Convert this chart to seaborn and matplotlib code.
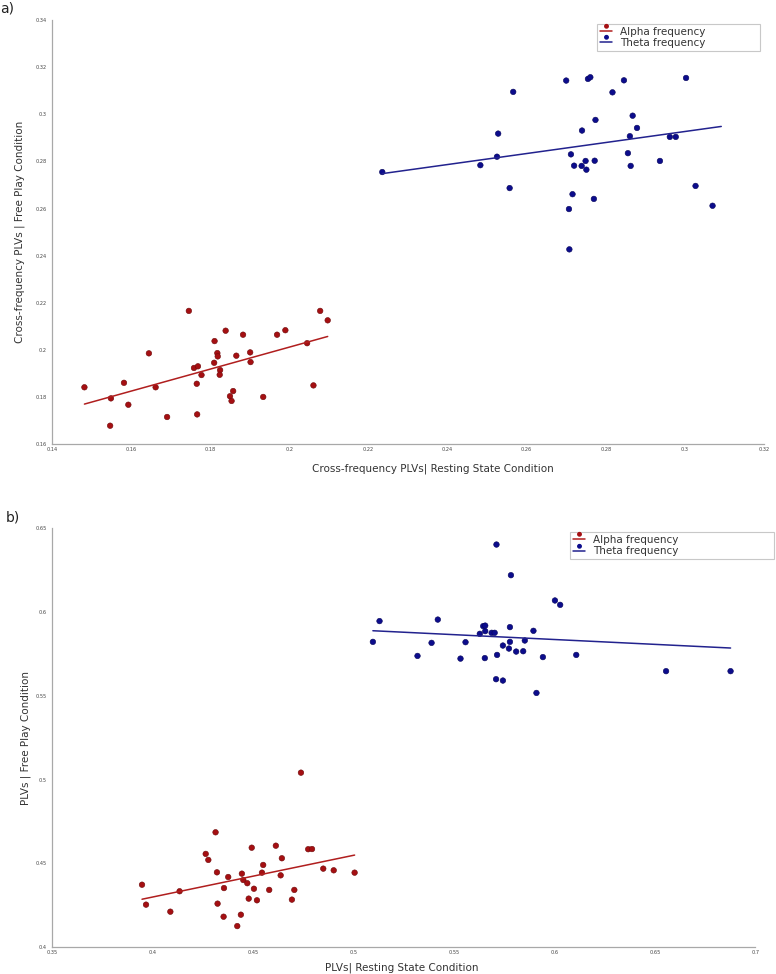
import numpy as np
import pandas as pd
import matplotlib
matplotlib.use("Agg")
import matplotlib.pyplot as plt
from matplotlib.path import Path
from matplotlib.lines import Line2D
from matplotlib.ticker import MultipleLocator, FuncFormatter
import seaborn as sns

# ---------------------------------------------------------
# DATA
# ---------------------------------------------------------
# a) cross-frequency PLVs, resting state (x) vs free play (y)
alpha_cf_rest = [0.1482, 0.1549, 0.1547, 0.1582, 0.1593, 0.1645, 0.1662, 0.1691, 0.1746, 0.1759,
                 0.1769, 0.1766, 0.1778, 0.1767, 0.1811, 0.1810, 0.1818, 0.1819, 0.1825, 0.1824,
                 0.1839, 0.1866, 0.1858, 0.1850, 0.1854, 0.1883, 0.1901, 0.1902, 0.1934, 0.1969,
                 0.1990, 0.2045, 0.2061, 0.2078, 0.2097]
alpha_cf_play = [0.1842, 0.1795, 0.1679, 0.1861, 0.1768, 0.1986, 0.1842, 0.1716, 0.2166, 0.1924,
                 0.1931, 0.1857, 0.1894, 0.1727, 0.2038, 0.1946, 0.1987, 0.1973, 0.1915, 0.1895,
                 0.2082, 0.1976, 0.1826, 0.1804, 0.1784, 0.2065, 0.1990, 0.1949, 0.1801, 0.2065,
                 0.2084, 0.2029, 0.1850, 0.2166, 0.2126]
# last theta point sits behind the legend (inferred from the fitted line's extent)
theta_cf_rest = [0.2235, 0.2483, 0.2525, 0.2528, 0.2566, 0.2557, 0.2700, 0.2712, 0.2720, 0.2740,
                 0.2739, 0.2749, 0.2751, 0.2716, 0.2707, 0.2708, 0.2755, 0.2761, 0.2774, 0.2772,
                 0.2770, 0.2817, 0.2846, 0.2868, 0.2879, 0.2861, 0.2856, 0.2863, 0.2937, 0.2962,
                 0.2977, 0.3003, 0.3027, 0.3070, 0.3092]
theta_cf_play = [0.2755, 0.2784, 0.2820, 0.2918, 0.3095, 0.2687, 0.3143, 0.2830, 0.2782, 0.2931,
                 0.2781, 0.2802, 0.2765, 0.2661, 0.2598, 0.2427, 0.3150, 0.3157, 0.2976, 0.2803,
                 0.2641, 0.3093, 0.3144, 0.2994, 0.2942, 0.2907, 0.2835, 0.2781, 0.2802, 0.2904,
                 0.2904, 0.3154, 0.2696, 0.2612, 0.3305]

# b) PLVs, resting state (x) vs free play (y)
alpha_rest = [0.3948, 0.3968, 0.4089, 0.4135, 0.4265, 0.4278, 0.4314, 0.4321, 0.4324, 0.4354,
              0.4356, 0.4377, 0.4422, 0.4440, 0.4445, 0.4452, 0.4472, 0.4479, 0.4494, 0.4505,
              0.4520, 0.4545, 0.4551, 0.4581, 0.4614, 0.4638, 0.4644, 0.4694, 0.4706, 0.4739,
              0.4775, 0.4794, 0.4850, 0.4902, 0.5006]
alpha_play = [0.4372, 0.4253, 0.4211, 0.4333, 0.4556, 0.4520, 0.4685, 0.4446, 0.4259, 0.4181,
              0.4352, 0.4418, 0.4125, 0.4193, 0.4438, 0.4400, 0.4381, 0.4289, 0.4593, 0.4348,
              0.4279, 0.4444, 0.4490, 0.4341, 0.4605, 0.4428, 0.4530, 0.4283, 0.4341, 0.5041,
              0.4584, 0.4585, 0.4468, 0.4458, 0.4444]
# last theta point is hidden under the legend box
theta_rest = [0.5097, 0.5130, 0.5420, 0.5389, 0.5319, 0.5533, 0.5558, 0.5629, 0.5646, 0.5656,
              0.5656, 0.5654, 0.5688, 0.5703, 0.5712, 0.5710, 0.5715, 0.5744, 0.5744, 0.5774,
              0.5779, 0.5779, 0.5784, 0.5810, 0.5845, 0.5853, 0.5896, 0.5911, 0.5943, 0.6003,
              0.6029, 0.6109, 0.6556, 0.6877, 0.6105]
theta_play = [0.5822, 0.5946, 0.5955, 0.5816, 0.5738, 0.5722, 0.5820, 0.5870, 0.5916, 0.5919,
              0.5886, 0.5725, 0.5876, 0.5876, 0.6403, 0.5599, 0.5744, 0.5800, 0.5591, 0.5782,
              0.5822, 0.5910, 0.6220, 0.5764, 0.5766, 0.5830, 0.5888, 0.5517, 0.5731, 0.6069,
              0.6043, 0.5744, 0.5647, 0.5647, 0.6335]

bands = ["Alpha frequency", "Theta frequency"]

# ---------------------------------------------------------
# STYLE
# ---------------------------------------------------------
sns.set_style("white")
plt.rcParams['font.family'] = ['DejaVu Sans']

DOT_COLORS = {"Alpha frequency": "#a50f12", "Theta frequency": "#0c0c8c"}
EDGE_COLORS = {"Alpha frequency": "#6e0a0a", "Theta frequency": "#06065a"}
LINE_COLORS = {"Alpha frequency": "#b01e1e", "Theta frequency": "#22228e"}
AXIS_GREY = "#a8a8a8"
TEXT_GREY = "#444444"

# legend marker: a dot sitting above the line (MATLAB look)
circ = Path.circle((0, 1.5), 0.5)
dot_above = Path(circ.vertices, circ.codes)


def make_df(a_x, a_y, t_x, t_y):
    return pd.DataFrame({
        "rest": a_x + t_x,
        "play": a_y + t_y,
        "band": [bands[0]] * len(a_x) + [bands[1]] * len(t_x),
    })


def draw_panel(ax, df, xlim, ylim, step_x, step_y):
    for band in bands:
        sub = df[df["band"] == band]
        sns.regplot(data=sub, x="rest", y="play", ax=ax, ci=None, scatter=False,
                    line_kws=dict(color=LINE_COLORS[band], lw=1.1))
    sns.scatterplot(data=df, x="rest", y="play", hue="band", palette=DOT_COLORS,
                    ax=ax, s=16, linewidth=0.4, legend=False,
                    edgecolor=[EDGE_COLORS[b] for b in df["band"]])
    ax.set_xlim(*xlim)
    ax.set_ylim(*ylim)
    ax.xaxis.set_major_locator(MultipleLocator(step_x))
    ax.yaxis.set_major_locator(MultipleLocator(step_y))
    fmt = FuncFormatter(lambda v, p: f"{round(v, 4):g}")
    ax.xaxis.set_major_formatter(fmt)
    ax.yaxis.set_major_formatter(fmt)
    for side in ["top", "right"]:
        ax.spines[side].set_visible(False)
    for side in ["left", "bottom"]:
        ax.spines[side].set_color(AXIS_GREY)
        ax.spines[side].set_linewidth(0.9)
    ax.tick_params(axis="x", direction="in", length=5, width=0.6, color=AXIS_GREY,
                   labelsize=3.6, labelcolor=TEXT_GREY, pad=2)
    ax.tick_params(axis="y", direction="inout", length=6, width=0.6, color=AXIS_GREY,
                   labelsize=3.6, labelcolor=TEXT_GREY, pad=1)
    ax.set_facecolor("white")


def add_legend(ax, fig, x0, top, width):
    handles = [Line2D([], [], color=LINE_COLORS[b], lw=1.1, marker=dot_above,
                      markersize=10, markerfacecolor=DOT_COLORS[b],
                      markeredgecolor=DOT_COLORS[b]) for b in bands]
    leg = ax.legend(handles, bands, loc="upper left",
                    bbox_to_anchor=(x0, top - 0.03, width, 0.03),
                    bbox_transform=fig.transFigure, mode="expand",
                    borderaxespad=0, fontsize=7.5, frameon=True, fancybox=False,
                    handlelength=1.2, handletextpad=0.8, labelspacing=0.15,
                    borderpad=0.25, numpoints=1, framealpha=1.0)
    leg.set_zorder(10)
    leg.get_frame().set_edgecolor("#c8c8c8")
    leg.get_frame().set_linewidth(0.8)
    for t in leg.get_texts():
        t.set_color("#333333")


# ---------------------------------------------------------
# FIGURE
# ---------------------------------------------------------
fig = plt.figure(figsize=(7.76, 9.74), dpi=100)
fig.patch.set_facecolor("white")

ax_a = fig.add_axes([0.067, 0.5438, 0.9175, 0.4357])
draw_panel(ax_a, make_df(alpha_cf_rest, alpha_cf_play, theta_cf_rest, theta_cf_play),
           (0.14, 0.32), (0.16, 0.34), 0.02, 0.02)
ax_a.set_xlabel("Cross-frequency PLVs| Resting State Condition", fontsize=7.5, color="#333333")
ax_a.set_ylabel("Cross-frequency PLVs | Free Play Condition", fontsize=7.5, color="#333333")
ax_a.xaxis.set_label_coords(0.535, -0.044)
ax_a.yaxis.set_label_coords(-0.038, 0.5)
add_legend(ax_a, fig, 0.7693, 0.9754, 0.2101)

ax_b = fig.add_axes([0.067, 0.0277, 0.9063, 0.4299])
draw_panel(ax_b, make_df(alpha_rest, alpha_play, theta_rest, theta_play),
           (0.35, 0.70), (0.40, 0.65), 0.05, 0.05)
ax_b.set_xlabel("PLVs| Resting State Condition", fontsize=7.5, color="#333333")
ax_b.set_ylabel("PLVs | Free Play Condition", fontsize=7.5, color="#333333")
ax_b.xaxis.set_label_coords(0.498, -0.038)
ax_b.yaxis.set_label_coords(-0.030, 0.5)
add_legend(ax_b, fig, 0.7345, 0.4538, 0.2629)

fig.text(0.0, 0.998, "a)", fontsize=10, va="top", ha="left", color="#222222")
fig.text(0.007, 0.476, "b)", fontsize=10, va="top", ha="left", color="#222222")

fig.savefig("out.png", dpi=100, facecolor="white")
